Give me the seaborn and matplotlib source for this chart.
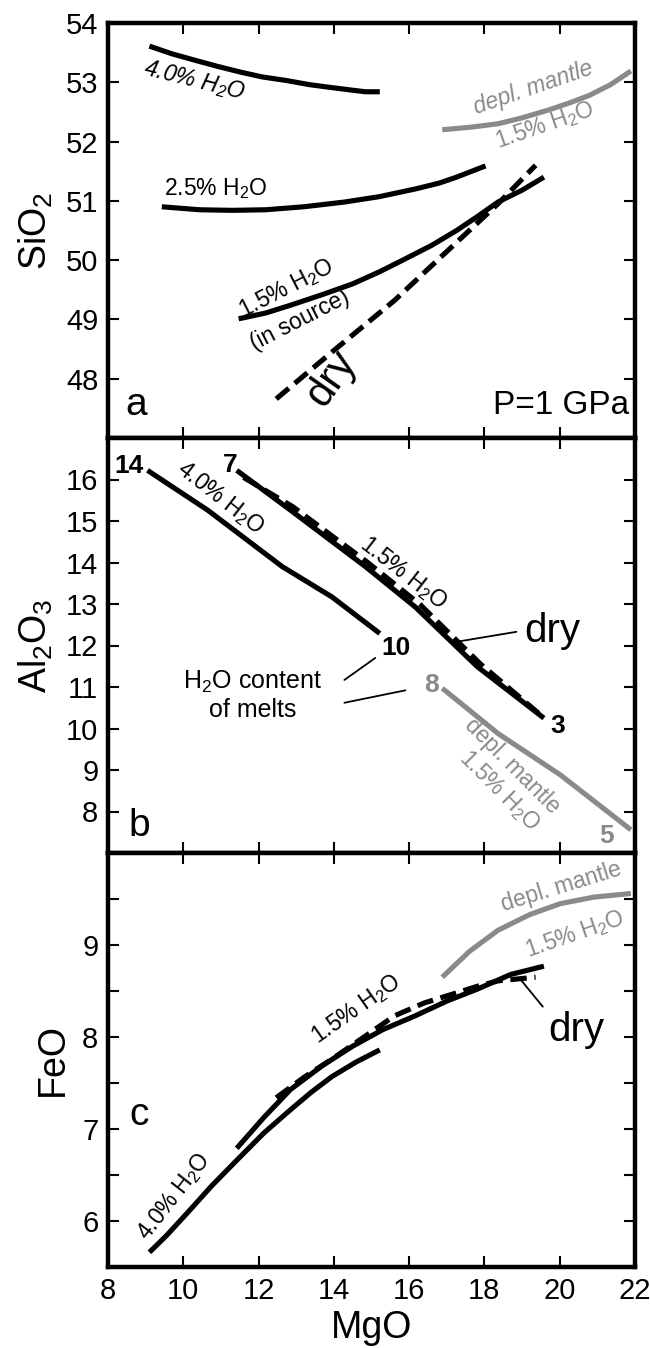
import matplotlib
matplotlib.use("Agg")
import matplotlib.pyplot as plt
import seaborn as sns
import pandas as pd

# ---------------- data ----------------
# Panel a: SiO2 vs MgO
a_h4_x = [9.10, 9.70, 10.32, 10.90, 11.53, 12.10, 12.74, 13.35, 13.95, 14.45, 14.84, 15.22]
a_h4_y = [53.61, 53.48, 53.37, 53.27, 53.17, 53.09, 53.03, 52.96, 52.91, 52.87, 52.84, 52.84]
a_h25_x = [9.43, 10.43, 11.30, 12.19, 13.20, 14.28, 15.20, 16.16, 16.80, 17.26, 18.03]
a_h25_y = [50.90, 50.85, 50.84, 50.85, 50.90, 50.98, 51.07, 51.20, 51.30, 51.40, 51.59]
a_h15_x = [11.47, 12.20, 12.85, 13.70, 14.50, 15.20, 15.83, 16.60, 17.26, 17.80, 18.36, 19.00, 19.58]
a_h15_y = [49.01, 49.11, 49.24, 49.42, 49.60, 49.80, 50.00, 50.25, 50.50, 50.73, 50.98, 51.18, 51.40]
a_dry_x = [12.47, 13.95, 15.61, 17.26, 18.36, 19.36]
a_dry_y = [47.66, 48.45, 49.32, 50.30, 50.95, 51.60]
a_dm_x = [16.88, 17.60, 18.36, 19.00, 19.69, 20.25, 20.79, 21.35, 21.89]
a_dm_y = [52.20, 52.24, 52.30, 52.40, 52.53, 52.65, 52.78, 52.96, 53.19]

# Panel b: Al2O3 vs MgO
b_h4_x = [9.05, 10.65, 12.63, 13.95, 15.22]
b_h4_y = [16.22, 15.26, 13.90, 13.17, 12.29]
b_h15_x = [11.42, 12.85, 14.84, 16.16, 17.81, 19.58]
b_h15_y = [16.22, 15.26, 13.90, 12.93, 11.49, 10.25]
b_dry_x = [11.60, 12.90, 14.90, 16.30, 17.90, 19.50]
b_dry_y = [16.05, 15.35, 14.00, 12.98, 11.55, 10.32]
b_dm_x = [16.88, 18.36, 20.02, 21.89]
b_dm_y = [10.97, 9.88, 8.88, 7.56]

# Panel c: FeO vs MgO
c_h4_x = [9.10, 9.55, 10.09, 10.75, 11.42, 12.15, 12.85, 13.40, 13.95, 14.60, 15.22]
c_h4_y = [5.66, 5.84, 6.08, 6.38, 6.66, 6.96, 7.21, 7.40, 7.57, 7.73, 7.86]
c_h15_x = [11.42, 12.15, 12.85, 13.70, 14.50, 15.30, 16.16, 17.00, 17.81, 18.70, 19.58]
c_h15_y = [6.79, 7.13, 7.43, 7.69, 7.90, 8.08, 8.23, 8.39, 8.52, 8.68, 8.77]
c_dry_x = [12.47, 13.20, 13.95, 14.80, 15.61, 16.40, 17.26, 17.80, 18.36, 19.36]
c_dry_y = [7.34, 7.56, 7.76, 8.00, 8.23, 8.37, 8.48, 8.55, 8.61, 8.65]
c_dm_x = [16.88, 17.60, 18.36, 19.20, 20.02, 20.90, 21.89]
c_dm_y = [8.65, 8.93, 9.16, 9.33, 9.45, 9.52, 9.56]

x_ticks = [8, 10, 12, 14, 16, 18, 20, 22]
a_yticks = [48, 49, 50, 51, 52, 53, 54]
b_yticks = [8, 9, 10, 11, 12, 13, 14, 15, 16]
c_yticks = [6, 7, 8, 9]
c_minor = [5.5, 6.5, 7.5, 8.5, 9.5]

# ---------------- style ----------------
sns.set_style("ticks")
plt.rcParams['font.family'] = ['Liberation Sans', 'DejaVu Sans']
plt.rcParams['mathtext.fontset'] = 'custom'
plt.rcParams['mathtext.rm'] = 'Liberation Sans'
plt.rcParams['mathtext.it'] = 'Liberation Sans:italic'
for k in ['text.color', 'axes.labelcolor', 'xtick.color', 'ytick.color', 'axes.edgecolor']:
    plt.rcParams[k] = 'black'

BLACK = "#000000"
GRAY = "#8a8a8a"
LW = 3.7
H2O = "H$_\\mathregular{2}$O"

fig = plt.figure(figsize=(6.5, 13.48), dpi=100)
L, R = 108 / 650, 635 / 650
tops = [23, 438, 853]
bots = [438, 853, 1267]
axes = []
for t, b in zip(tops, bots):
    ax = fig.add_axes([L, 1 - b / 1348, R - L, (b - t) / 1348])
    axes.append(ax)


def draw(ax, x, y, color=BLACK, dashed=False, lw=LW):
    df = pd.DataFrame({"x": x, "y": y})
    sns.lineplot(data=df, x="x", y="y", ax=ax, sort=False, color=color,
                 lw=lw, linestyle=(0, (3.2, 1.5)) if dashed else "-",
                 solid_capstyle="butt", dash_capstyle="butt")


def style_axis(ax, yticks, ylim, ylabel, xlabels=False, minor=None):
    ax.set_xlim(8, 22)
    ax.set_ylim(*ylim)
    ax.set_xticks(x_ticks)
    ax.set_yticks(yticks)
    if minor:
        ax.set_yticks(minor, minor=True)
    ax.tick_params(direction="in", which="both", top=True, right=True,
                   length=8, width=1.5, labelsize=21, pad=7)
    ax.tick_params(which="minor", length=8, width=1.5)
    if not xlabels:
        ax.tick_params(labelbottom=False)
    for s in ax.spines.values():
        s.set_linewidth(3.2)
    ax.set_ylabel(ylabel, fontsize=27, labelpad=8)
    ax.set_xlabel("")


fs = 16.5
# ---- panel a ----
ax = axes[0]
draw(ax, a_h4_x, a_h4_y)
draw(ax, a_h25_x, a_h25_y)
draw(ax, a_h15_x, a_h15_y)
draw(ax, a_dry_x, a_dry_y, dashed=True)
draw(ax, a_dm_x, a_dm_y, color=GRAY)
style_axis(ax, a_yticks, (47, 54), "SiO$_\\mathregular{2}$")
ax.text(10.3, 53.03, "4.0% " + H2O, fontsize=fs, rotation=-14, ha="center", va="center", style="italic")
ax.text(10.85, 51.2, "2.5% " + H2O, fontsize=fs, ha="center", va="center")
ax.text(12.75, 49.52, "1.5% " + H2O, fontsize=fs, rotation=27, ha="center", va="center")
ax.text(13.1, 48.98, "(in source)", fontsize=fs, rotation=27, ha="center", va="center")
ax.text(13.95, 48.0, "dry", fontsize=30, rotation=55, ha="center", va="center")
ax.text(19.3, 52.9, "depl. mantle", fontsize=fs, rotation=19, ha="center", va="center", color=GRAY, style="italic")
ax.text(19.6, 52.28, "1.5% " + H2O, fontsize=fs, rotation=19, ha="center", va="center", color=GRAY)
ax.text(8.75, 47.55, "a", fontsize=28, ha="center", va="center")
ax.text(21.85, 47.55, "P=1 GPa", fontsize=24, ha="right", va="center")

# ---- panel b ----
ax = axes[1]
draw(ax, b_h4_x, b_h4_y)
draw(ax, b_dry_x, b_dry_y, dashed=True)
draw(ax, b_h15_x, b_h15_y)
draw(ax, b_dm_x, b_dm_y, color=GRAY)
style_axis(ax, b_yticks, (7, 17), "Al$_\\mathregular{2}$O$_\\mathregular{3}$")
ax.text(8.55, 16.32, "14", fontsize=19, weight="bold", ha="center", va="center")
ax.text(11.25, 16.35, "7", fontsize=19, weight="bold", ha="center", va="center")
ax.text(15.65, 11.93, "10", fontsize=19, weight="bold", ha="center", va="center")
ax.text(19.95, 10.05, "3", fontsize=19, weight="bold", ha="center", va="center")
ax.text(16.6, 11.05, "8", fontsize=19, weight="bold", ha="center", va="center", color=GRAY)
ax.text(21.25, 7.4, "5", fontsize=19, weight="bold", ha="center", va="center", color=GRAY)
ax.text(11.0, 15.55, "4.0% " + H2O, fontsize=fs, rotation=-38, ha="center", va="center")
ax.text(15.85, 13.75, "1.5% " + H2O, fontsize=fs, rotation=-38, ha="center", va="center")
ax.text(19.8, 12.35, "dry", fontsize=29, ha="center", va="center")
ax.plot([17.2, 18.85], [12.08, 12.33], color=BLACK, lw=1.3)
ax.text(11.85, 10.8, H2O + " content\nof melts", fontsize=18, ha="center", va="center", linespacing=1.15)
ax.plot([14.28, 15.1], [11.17, 11.7], color=BLACK, lw=1.3)
ax.plot([14.28, 15.9], [10.62, 10.92], color=BLACK, lw=1.3)
ax.text(18.75, 9.1, "depl. mantle", fontsize=fs, rotation=-45, ha="center", va="center", color=GRAY)
ax.text(18.4, 8.5, "1.5% " + H2O, fontsize=fs, rotation=-45, ha="center", va="center", color=GRAY)
ax.text(8.83, 7.65, "b", fontsize=28, ha="center", va="center")

# ---- panel c ----
ax = axes[2]
draw(ax, c_h4_x, c_h4_y)
draw(ax, c_dry_x, c_dry_y, dashed=True)
draw(ax, c_h15_x, c_h15_y)
draw(ax, c_dm_x, c_dm_y, color=GRAY)
style_axis(ax, c_yticks, (5.5, 10), "FeO", xlabels=True, minor=c_minor)
ax.set_xlabel("MgO", fontsize=27, labelpad=4)
ax.text(9.75, 6.27, "4.0% " + H2O, fontsize=fs, rotation=52, ha="center", va="center")
ax.text(14.6, 8.3, "1.5% " + H2O, fontsize=fs, rotation=35, ha="center", va="center")
ax.text(20.45, 8.08, "dry", fontsize=29, ha="center", va="center")
ax.plot([18.95, 19.55], [8.63, 8.33], color=BLACK, lw=1.3)
ax.text(20.05, 9.63, "depl. mantle", fontsize=fs, rotation=17, ha="center", va="center", color=GRAY)
ax.text(20.4, 9.12, "1.5% " + H2O, fontsize=fs, rotation=19, ha="center", va="center", color=GRAY)
ax.text(8.83, 7.15, "c", fontsize=28, ha="center", va="center")

fig.savefig("out.png", dpi=100)
